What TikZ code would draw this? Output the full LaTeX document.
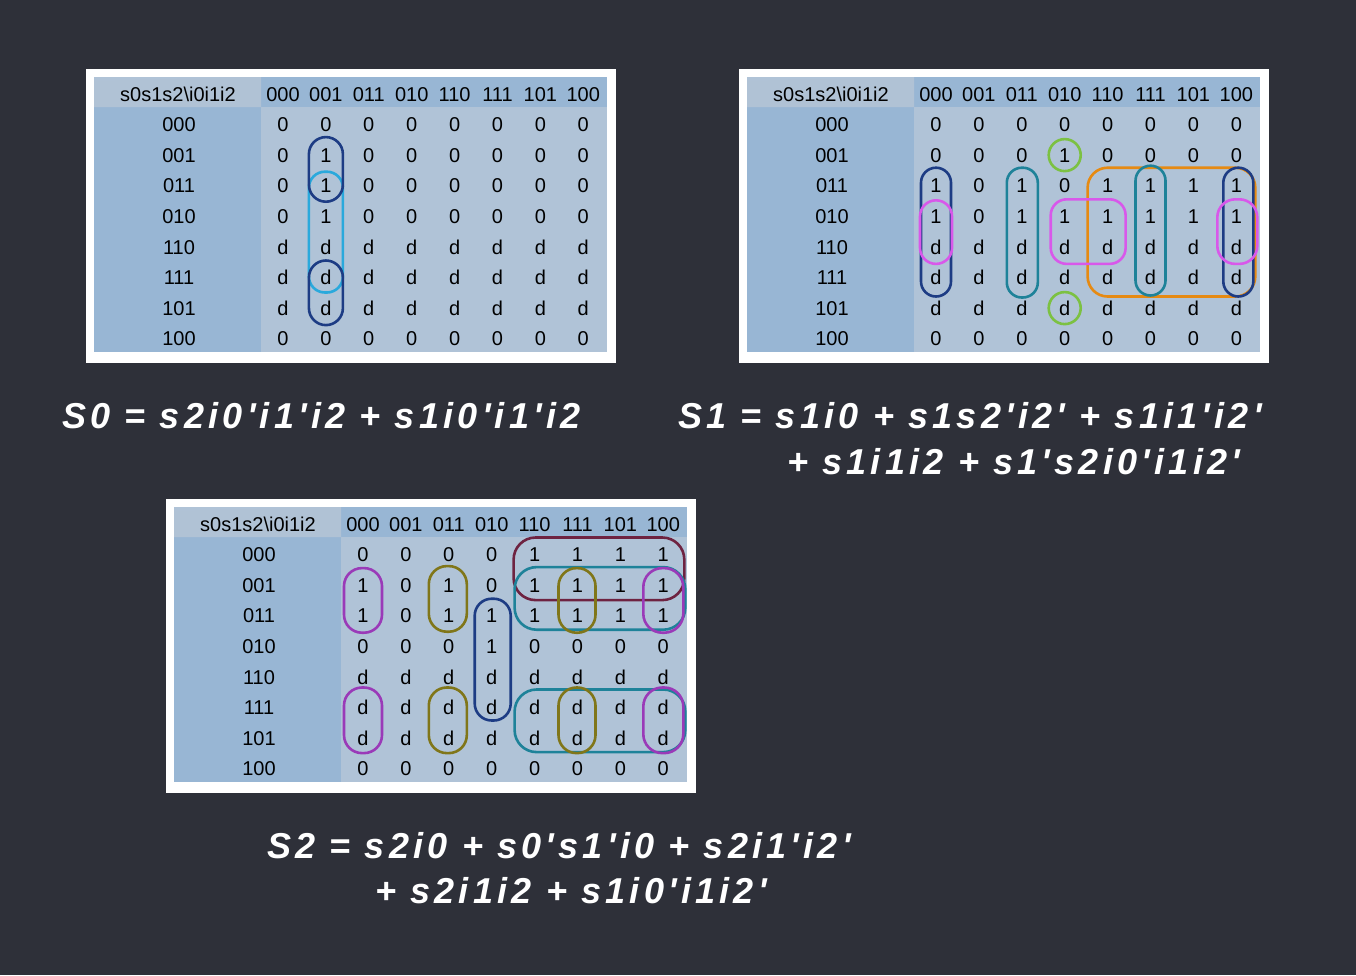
\documentclass[tikz,border=0pt]{standalone}
\usepackage{fontspec}
\setmainfont{Liberation Sans}
\newfontfamily\eqfont{Liberation Sans}[Ligatures=TeXOff,LetterSpace=11.8]
\usetikzlibrary{calc}
\definecolor{bgc}{HTML}{2E3039}
\definecolor{bodyc}{HTML}{B0C3D7}
\definecolor{headc}{HTML}{98B6D4}
\definecolor{cornerc}{HTML}{B0C2D5}
\definecolor{navyc}{HTML}{1D3C84}
\definecolor{cyanc}{HTML}{2AA9DC}
\definecolor{greenc}{HTML}{7CC142}
\definecolor{tealc}{HTML}{1E8299}
\definecolor{orangec}{HTML}{E68A12}
\definecolor{magc}{HTML}{D858EA}
\definecolor{maroonc}{HTML}{6E2341}
\definecolor{olivec}{HTML}{807619}
\definecolor{purplec}{HTML}{9A3AB8}
\tikzset{
  cell/.style={font=\fontsize{20}{23}\selectfont, text height=14.3pt, text depth=0pt, inner sep=0pt},
  lp/.style={line width=2.6pt},
  eq/.style={text=white, font=\eqfont\bfseries\itshape\fontsize{36}{40}\selectfont, anchor=base west, inner sep=0pt}
}
\newcommand\kmap[4]{%
\begin{scope}[shift={(#2,#3)}]
  \fill[white] (0,0) rectangle (530,294);
  \fill[bodyc] (8,8) rectangle (521,283);
  \fill[headc] (175,8) rectangle (521,38);
  \fill[headc] (8,38) rectangle (175,283);
  \fill[cornerc] (8,12) -- (175,8) -- (175,38) -- (8,38) -- cycle;
  \node[cell] (#1-h) at (92,25) {s0s1s2\textbackslash i0i1i2};
  \foreach \hh [count=\c] in {000,001,011,010,110,111,101,100}
    \node[cell] (#1-h\c) at ({197+42.9*(\c-1)},25) {\hh};
  \foreach \hh [count=\r] in {000,001,011,010,110,111,101,100}
    \node[cell] (#1-l\r) at (93,{55.5+30.6*(\r-1)}) {\hh};
  \foreach \rowvals [count=\r] in {#4}{
    \foreach \vv [count=\c] in \rowvals
      \node[cell] (#1-\r-\c) at ({197+42.9*(\c-1)},{55.5+30.6*(\r-1)}) {\vv};
  }
\end{scope}}
\newcommand\kloop[7]{\draw[lp,#1] ($(#2)+(-#4,-#5)$) rectangle ($(#3)+(#6,#7)$);}
\begin{document}
\begin{tikzpicture}[x=1pt,y=-1pt]
\fill[bgc] (0,0) rectangle (1356,975);
% ---------- S0 map ----------
\kmap{T1}{86}{69}{{0,0,0,0,0,0,0,0},{0,1,0,0,0,0,0,0},{0,1,0,0,0,0,0,0},{0,1,0,0,0,0,0,0},{d,d,d,d,d,d,d,d},{d,d,d,d,d,d,d,d},{d,d,d,d,d,d,d,d},{0,0,0,0,0,0,0,0}}
\kloop{cyanc,rounded corners=16}{T1-3-2}{T1-6-2}{17}{14}{17}{15}
\kloop{navyc,rounded corners=17}{T1-2-2}{T1-3-2}{17}{18}{17}{16}
\kloop{navyc,rounded corners=17}{T1-6-2}{T1-7-2}{17}{17}{17}{17}
% ---------- S1 map ----------
\kmap{T2}{739}{69}{{0,0,0,0,0,0,0,0},{0,0,0,1,0,0,0,0},{1,0,1,0,1,1,1,1},{1,0,1,1,1,1,1,1},{d,d,d,d,d,d,d,d},{d,d,d,d,d,d,d,d},{d,d,d,d,d,d,d,d},{0,0,0,0,0,0,0,0}}
\kloop{orangec,rounded corners=20}{T2-3-5}{T2-6-8}{20}{18}{19}{19}
\kloop{navyc,rounded corners=15}{T2-3-1}{T2-6-1}{15}{18}{15}{19}
\kloop{navyc,rounded corners=15}{T2-3-8}{T2-6-8}{13}{18}{17}{19}
\kloop{tealc,rounded corners=15}{T2-3-3}{T2-6-3}{15}{18}{16}{20}
\kloop{tealc,rounded corners=15}{T2-3-6}{T2-6-6}{15}{20}{15}{18}
\kloop{magc,rounded corners=16}{T2-4-1}{T2-5-1}{16}{16}{16}{17}
\kloop{magc,rounded corners=16}{T2-4-4}{T2-5-5}{14}{17}{18}{17}
\kloop{magc,rounded corners=18}{T2-4-8}{T2-5-8}{19}{17}{21}{17}
\draw[lp,greenc] (T2-2-4) circle[radius=16];
\draw[lp,greenc] (T2-7-4) circle[radius=16];
% ---------- S2 map ----------
\kmap{T3}{166}{499}{{0,0,0,0,1,1,1,1},{1,0,1,0,1,1,1,1},{1,0,1,1,1,1,1,1},{0,0,0,1,0,0,0,0},{d,d,d,d,d,d,d,d},{d,d,d,d,d,d,d,d},{d,d,d,d,d,d,d,d},{0,0,0,0,0,0,0,0}}
\kloop{maroonc,rounded corners=22}{T3-1-5}{T3-2-8}{21}{17}{21}{15}
\kloop{tealc,rounded corners=22}{T3-2-5}{T3-3-8}{20}{18}{22}{14}
\kloop{tealc,rounded corners=22}{T3-6-5}{T3-7-8}{20}{18}{22}{14}
\kloop{olivec,rounded corners=18}{T3-2-3}{T3-3-3}{20}{19}{18}{16}
\kloop{olivec,rounded corners=18}{T3-2-6}{T3-3-6}{19}{17}{18}{17}
\kloop{olivec,rounded corners=18}{T3-6-3}{T3-7-3}{20}{20}{18}{15}
\kloop{olivec,rounded corners=18}{T3-6-6}{T3-7-6}{19}{20}{18}{15}
\kloop{purplec,rounded corners=18}{T3-2-1}{T3-3-1}{19}{17}{19}{17}
\kloop{purplec,rounded corners=19}{T3-2-8}{T3-3-8}{20}{17}{20}{17}
\kloop{purplec,rounded corners=18}{T3-6-1}{T3-7-1}{19}{20}{19}{15}
\kloop{purplec,rounded corners=19}{T3-6-8}{T3-7-8}{20}{20}{20}{15}
\kloop{navyc,rounded corners=17}{T3-3-4}{T3-6-4}{17}{17}{19}{13}
% ---------- equations ----------
\node[eq] (e0) at (62,428) {S0 = s2i0'i1'i2 + s1i0'i1'i2};
\node[eq] (e1a) at (678,428) {S1 = s1i0 + s1s2'i2' + s1i1'i2'};
\node[eq] (e1b) at (787,474) {+ s1i1i2 + s1's2i0'i1i2'};
\node[eq] (e2a) at (267,858) {S2 = s2i0 + s0's1'i0 + s2i1'i2'};
\node[eq] (e2b) at (375,903) {+ s2i1i2 + s1i0'i1i2'};
\end{tikzpicture}
\end{document}
